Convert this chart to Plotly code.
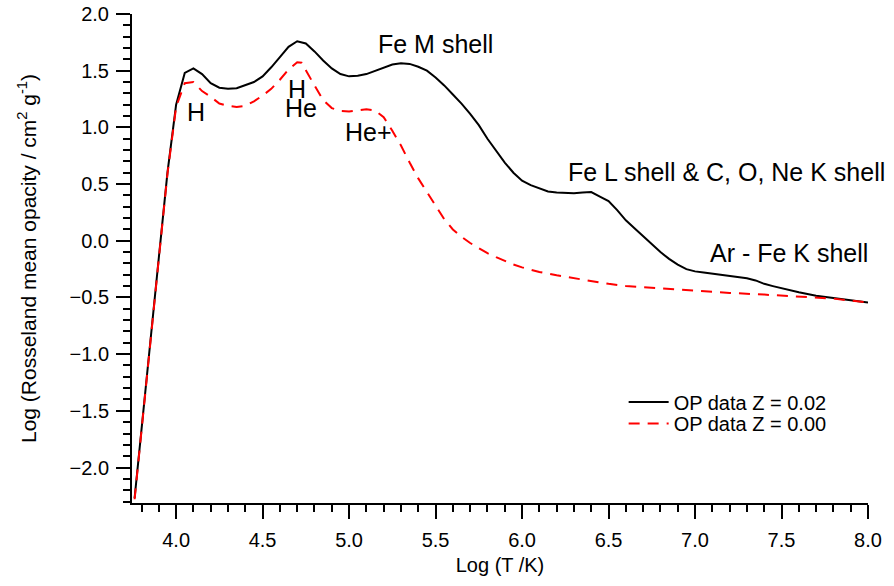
import plotly.graph_objects as go

# Rosseland mean opacity, OP data, Z = 0.02
logT_z002 = [3.76, 3.80, 3.85, 3.90, 3.95, 4.00, 4.05, 4.10, 4.15, 4.20, 4.25, 4.30,
             4.35, 4.40, 4.45, 4.50, 4.55, 4.60, 4.65, 4.70, 4.75, 4.80, 4.85, 4.90,
             4.95, 5.00, 5.05, 5.10, 5.15, 5.20, 5.25, 5.30, 5.35, 5.40, 5.45, 5.50,
             5.55, 5.60, 5.65, 5.70, 5.75, 5.80, 5.85, 5.90, 5.95, 6.00, 6.05, 6.10,
             6.15, 6.20, 6.25, 6.30, 6.35, 6.40, 6.45, 6.50, 6.55, 6.60, 6.65, 6.70,
             6.75, 6.80, 6.85, 6.90, 6.95, 7.00, 7.05, 7.10, 7.15, 7.20, 7.25, 7.30,
             7.35, 7.40, 7.45, 7.50, 7.60, 7.70, 7.80, 7.90, 8.00]
logK_z002 = [-2.27, -1.68, -0.92, -0.15, 0.60, 1.20, 1.48, 1.52, 1.47, 1.39, 1.35, 1.34,
             1.345, 1.37, 1.40, 1.45, 1.53, 1.62, 1.71, 1.76, 1.74, 1.67, 1.59, 1.52,
             1.47, 1.45, 1.455, 1.47, 1.50, 1.53, 1.555, 1.565, 1.56, 1.535, 1.50, 1.44,
             1.37, 1.29, 1.21, 1.12, 1.02, 0.90, 0.79, 0.69, 0.60, 0.53, 0.49, 0.46,
             0.435, 0.425, 0.42, 0.42, 0.425, 0.43, 0.39, 0.35, 0.27, 0.18, 0.11, 0.04,
             -0.03, -0.10, -0.16, -0.21, -0.25, -0.27, -0.28, -0.29, -0.30, -0.31, -0.32, -0.33,
             -0.35, -0.38, -0.40, -0.42, -0.455, -0.485, -0.505, -0.525, -0.545]

# Rosseland mean opacity, OP data, Z = 0.00
logT_z000 = [3.76, 3.80, 3.85, 3.90, 3.95, 4.00, 4.05, 4.10, 4.15, 4.20, 4.25, 4.30,
             4.35, 4.40, 4.45, 4.50, 4.55, 4.60, 4.65, 4.70, 4.725, 4.75, 4.80, 4.85,
             4.90, 4.95, 5.00, 5.05, 5.10, 5.15, 5.20, 5.25, 5.30, 5.35, 5.40, 5.45,
             5.50, 5.55, 5.60, 5.65, 5.70, 5.75, 5.80, 5.85, 5.90, 5.95, 6.00, 6.10,
             6.20, 6.30, 6.40, 6.50, 6.60, 6.70, 6.80, 7.00, 7.20, 7.40, 7.60, 7.80, 8.00]
logK_z000 = [-2.28, -1.69, -0.93, -0.16, 0.59, 1.18, 1.39, 1.40, 1.32, 1.27, 1.21, 1.19,
             1.18, 1.19, 1.23, 1.28, 1.34, 1.42, 1.51, 1.575, 1.57, 1.50, 1.37, 1.24,
             1.17, 1.145, 1.14, 1.15, 1.16, 1.15, 1.09, 0.97, 0.84, 0.69, 0.55, 0.43,
             0.31, 0.19, 0.10, 0.035, -0.02, -0.065, -0.11, -0.145, -0.18, -0.21, -0.235, -0.275,
             -0.305, -0.33, -0.36, -0.38, -0.40, -0.41, -0.425, -0.445, -0.46, -0.475, -0.49, -0.51, -0.545]

# Absorption features: (label, logT, logK)
feature_labels = ["H", "H", "He", "He+", "Fe M shell",
                  "Fe L shell & C, O, Ne K shell", "Ar - Fe K shell"]
feature_x = [4.117, 4.70, 4.724, 5.111, 5.50, 7.18, 7.545]
feature_y = [1.134, 1.335, 1.17, 0.96, 1.735, 0.61, -0.105]

FONT = "Arial, Liberation Sans, sans-serif"

fig = go.Figure()
fig.add_trace(go.Scatter(
    x=logT_z002, y=logK_z002, mode="lines", name="OP data Z = 0.02",
    line=dict(color="black", width=2), legend="legend"))
fig.add_trace(go.Scatter(
    x=logT_z000, y=logK_z000, mode="lines", name="OP data Z = 0.00",
    line=dict(color="#ff0000", width=2, dash="11px,8px"), legend="legend2"))

for txt, xv, yv in zip(feature_labels, feature_x, feature_y):
    fig.add_annotation(x=xv, y=yv, text=txt, showarrow=False,
                       xanchor="center", yanchor="middle",
                       font=dict(family=FONT, size=25, color="black"))

axis_common = dict(
    showline=True, linecolor="black", linewidth=2, mirror=False,
    showgrid=False, zeroline=False, automargin=False,
    ticks="outside", ticklen=14, tickwidth=2, tickcolor="black",
    tickfont=dict(family=FONT, size=20, color="black"),
    minor=dict(ticks="outside", ticklen=7, tickwidth=2, tickcolor="black",
               dtick=0.1, showgrid=False),
)

fig.update_xaxes(range=[3.745, 8.0], dtick=0.5, tick0=4.0, tickformat=".1f",
                 ticklabelstandoff=4,
                 title=dict(text="Log (T /K)", font=dict(family=FONT, size=20, color="black"),
                            standoff=8),
                 **axis_common)
fig.update_yaxes(range=[-2.313, 2.0], dtick=0.5, tick0=0, tickformat=".1f",
                 ticklabelstandoff=3,
                 title=dict(text="Log (Rosseland mean opacity / cm<sup>2</sup> g<sup>-1</sup>)",
                            font=dict(family=FONT, size=21, color="black"), standoff=27),
                 **axis_common)

legend_common = dict(xanchor="left", yanchor="middle", bgcolor="rgba(0,0,0,0)",
                     borderwidth=0, itemwidth=40,
                     font=dict(family=FONT, size=20, color="black"))

fig.update_layout(
    width=894, height=586,
    margin=dict(l=132, r=26, t=14, b=83, autoexpand=False),
    paper_bgcolor="white", plot_bgcolor="white",
    font=dict(family=FONT, color="black"),
    showlegend=True,
    legend=dict(x=0.668, y=0.2067, **legend_common),
    legend2=dict(x=0.668, y=0.1625, **legend_common),
)

fig.write_html("out.html")
